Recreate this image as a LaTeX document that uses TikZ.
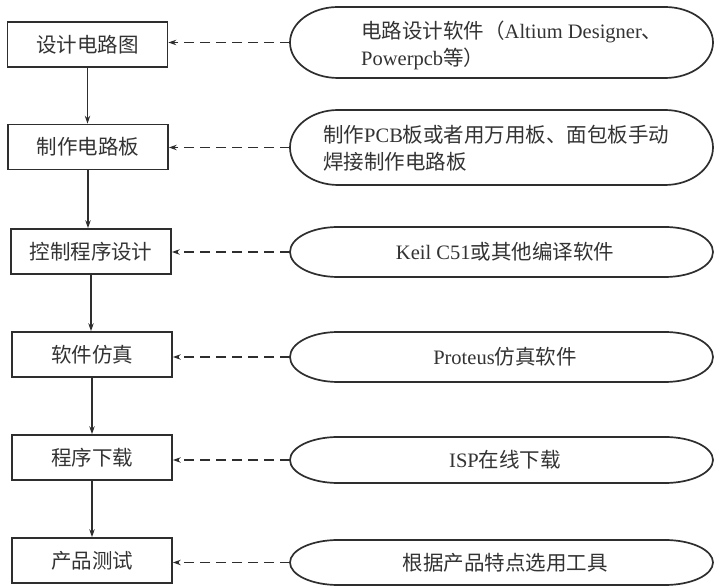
\documentclass[tikz,border=0pt]{standalone}
\usepackage{fontspec}
\setmainfont{Liberation Serif}
\newfontfamily\cjk{Noto Sans CJK SC}
\usetikzlibrary{arrows.meta}
\definecolor{ink}{HTML}{2E2E2E}
\definecolor{textink}{HTML}{333333}
\tikzset{
  stepbox/.style={draw=ink, line width=1.7pt, rectangle, minimum width=160pt, minimum height=45pt, inner sep=0pt, text=textink, font=\fontsize{20.5}{27}\selectfont\cjk},
  flowarrow/.style={draw=ink, line width=1.1pt, -{Stealth[length=8pt,width=5.5pt]}},
  toolarrow/.style={draw=ink, line width=1.2pt, dash pattern=on 10pt off 6pt, -{Stealth[length=8pt,width=5.5pt]}},
  capsuleline/.style={draw=ink, line width=1.7pt},
  tooltext/.style={text=textink, inner sep=0pt, font=\fontsize{20.5}{27}\selectfont},
}
\newcommand\mycapsule[3]{% name, cy, ry
  \draw[capsuleline] (290,#2) arc[start angle=180, end angle=90, x radius=48, y radius=#3]
    -- (665,#2+#3) arc[start angle=90, end angle=-90, x radius=48, y radius=#3]
    -- (338,#2-#3) arc[start angle=270, end angle=180, x radius=48, y radius=#3] -- cycle;
  \coordinate (#1) at (290,#2);
}
\begin{document}
\begin{tikzpicture}[x=1pt,y=1pt]
\useasboundingbox[fill=white] (0,0) rectangle (715,586);
% left boxes
\node[stepbox] (b1) at (87.5,541.5) {设计电路图};
\node[stepbox] (b2) at (88,439) {制作电路板};
\node[stepbox] (b3) at (91,334.5) {控制程序设计};
\node[stepbox] (b4) at (92,231.5) {软件仿真};
\node[stepbox] (b5) at (92,128.5) {程序下载};
\node[stepbox] (b6) at (92,25.5) {产品测试};
% capsules
\mycapsule{e1}{543.5}{35.5}
\mycapsule{e2}{438.5}{37.5}
\mycapsule{e3}{334}{25}
\mycapsule{e4}{229}{25}
\mycapsule{e5}{126}{23}
\mycapsule{e6}{23.5}{22.5}
% capsule texts
\node[tooltext, anchor=west, align=left] (t1) at (361,541) {{\cjk 电路设计软件（}Altium Designer{\cjk 、}\\Powerpcb{\cjk 等）}};
\node[tooltext, anchor=west, align=left] (t2) at (323,438) {{\cjk 制作}PCB{\cjk 板或者用万用板、面包板手动}\\{\cjk 焊接制作电路板}};
\node[tooltext] (t3) at (505,334) {Keil C51{\cjk 或其他编译软件}};
\node[tooltext] (t4) at (505,229) {Proteus{\cjk 仿真软件}};
\node[tooltext] (t5) at (505,126) {ISP{\cjk 在线下载}};
\node[tooltext] (t6) at (505,23.5) {\cjk 根据产品特点选用工具};
% flow arrows
\draw[flowarrow] (b1.south) -- (b1.south |- b2.north);
\draw[flowarrow] (b2.south) -- (b2.south |- b3.north);
\draw[flowarrow] (b3.south) -- (b3.south |- b4.north);
\draw[flowarrow] (b4.south) -- (b4.south |- b5.north);
\draw[flowarrow] (b5.south) -- (b5.south |- b6.north);
% tool arrows
\draw[toolarrow] (e1) -- (b1.east |- e1);
\draw[toolarrow] (e2) -- (b2.east |- e2);
\draw[toolarrow] (e3) -- (b3.east |- e3);
\draw[toolarrow] (e4) -- (b4.east |- e4);
\draw[toolarrow] (e5) -- (b5.east |- e5);
\draw[toolarrow] (e6) -- (b6.east |- e6);
\end{tikzpicture}
\end{document}
